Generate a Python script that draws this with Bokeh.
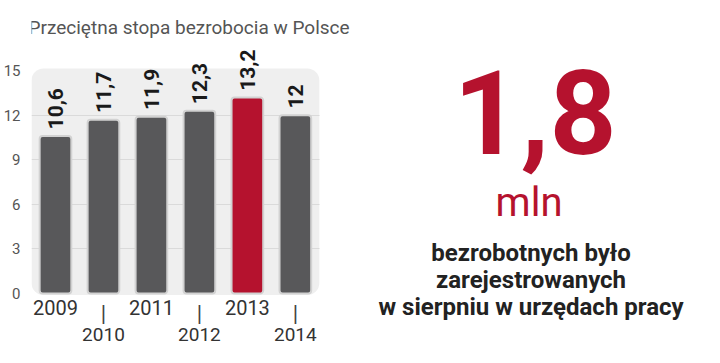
import math
from bokeh.plotting import figure
from bokeh.models import Range1d, FixedTicker, ColumnDataSource, Label, Quad, VBar
from bokeh.core.properties import value
from bokeh.embed import file_html
from bokeh.resources import INLINE

# ---- data ----
years = ["2009", "2010", "2011", "2012", "2013", "2014"]
rates = [10.6, 11.7, 11.9, 12.3, 13.2, 12.0]
rate_labels = ["10,6", "11,7", "11,9", "12,3", "13,2", "12"]
highlight_year = "2013"
y_ticks = [0, 3, 6, 9, 12, 15]
title_text = "Przeciętna stopa bezrobocia w Polsce"
big_number = "1,8"
big_unit = "mln"
caption_lines = ["bezrobotnych było", "zarejestrowanych", "w sierpniu w urzędach pracy"]

# ---- style ----
GRAY = "#58585a"
RED = "#b5122e"
FONT = "Roboto"
W, H = 704, 347
PX_PER_X = 48.4
PX_PER_Y = 14.85


def px2x(px):
    return (px - 33) / PX_PER_X - 0.5


def py2y(py):
    return (293 - py) / PX_PER_Y


p = figure(width=W, height=H, output_backend="svg", toolbar_location=None,
           x_range=Range1d(px2x(33), px2x(712)), y_range=Range1d(py2y(347), py2y(0)),
           x_axis_location=None, min_border_left=25, min_border_right=0,
           min_border_top=0, min_border_bottom=0)
p.outline_line_color = None
p.background_fill_color = "white"
p.border_fill_color = "white"

ax = p.yaxis[0]
ax.ticker = FixedTicker(ticks=y_ticks)
ax.axis_line_color = None
ax.major_tick_line_color = None
ax.minor_tick_line_color = None
ax.major_label_text_font = FONT
ax.major_label_text_font_size = "15px"
ax.major_label_text_color = "#555555"
ax.major_label_standoff = 5

p.xgrid.visible = False
g = p.ygrid[0]
g.ticker = FixedTicker(ticks=y_ticks[1:-1])
g.grid_line_color = "#dadada"
g.grid_line_width = 1
if "cross_bounds" in g.properties():
    g.cross_bounds = (-0.5, len(years) - 0.5)

n = len(years)
xs = list(range(n))

# background panel
bg_kw = {}
if "border_radius" in Quad.properties():
    bg_kw["border_radius"] = 12
p.quad(left=[-0.5], right=[n - 0.5], bottom=[-0.1], top=[max(y_ticks) + 0.15],
       fill_color="#efefef", line_color=None, level="image", **bg_kw)

src = ColumnDataSource(dict(
    x=xs, top=rates, label=rate_labels,
    label_y=[r + 0.45 for r in rates],
    color=[RED if y == highlight_year else GRAY for y in years],
))
bar_kw = {}
if "border_radius" in VBar.properties():
    bar_kw["border_radius"] = 3
p.vbar(x="x", top="top", bottom=0, width=0.66, source=src, fill_color="color",
       line_color="#d2d2d2", line_width=2, **bar_kw)

p.text(x="x", y="label_y", text="label", source=src, angle=math.pi / 2,
       text_align="left", text_baseline="middle", text_font=value(FONT),
       text_font_style="bold", text_font_size="21px", text_color="#1a1a1a")

# year labels in two rows
row1_x = [i for i in xs if i % 2 == 0]
row2_x = [i for i in xs if i % 2 == 1]
p.text(x=row1_x, y=[py2y(306.5)] * len(row1_x), text=[years[i] for i in row1_x],
       text_align="center", text_baseline="alphabetic", text_font=value(FONT),
       text_font_size="20px", text_color="#333333")
p.text(x=row2_x, y=[py2y(333.5)] * len(row2_x), text=[years[i] for i in row2_x],
       text_align="center", text_baseline="alphabetic", text_font=value(FONT),
       text_font_size="19px", text_color="#333333")
p.text(x=row2_x, y=[py2y(312.5)] * len(row2_x), text=["|"] * len(row2_x),
       text_align="center", text_baseline="middle", text_font=value(FONT),
       text_font_size="22px", text_color="#444444")

# title
p.add_layout(Label(x=px2x(30), y=py2y(27), text=title_text, text_font=FONT,
                   text_font_size="19px", text_color="#555555",
                   text_align="left", text_baseline="alphabetic"))

# right side
p.text(x=[px2x(541)], y=[py2y(111)], text=[big_number], text_align="center",
       text_baseline="alphabetic", text_font=value(FONT), text_font_style="bold",
       text_font_size="117px", text_color=RED)
p.text(x=[px2x(535)], y=[py2y(202)], text=[big_unit], text_align="center",
       text_baseline="alphabetic", text_font=value(FONT),
       text_font_size="40px", text_color=RED)
base_py = [252, 279.5, 306.5]
p.text(x=[px2x(537)] * len(caption_lines), y=[py2y(b) for b in base_py],
       text=caption_lines, text_align="center", text_baseline="alphabetic",
       text_font=value(FONT), text_font_style="bold", text_font_size="24px",
       text_color="#222222")

open("out.html", "w").write(file_html(p, INLINE))
